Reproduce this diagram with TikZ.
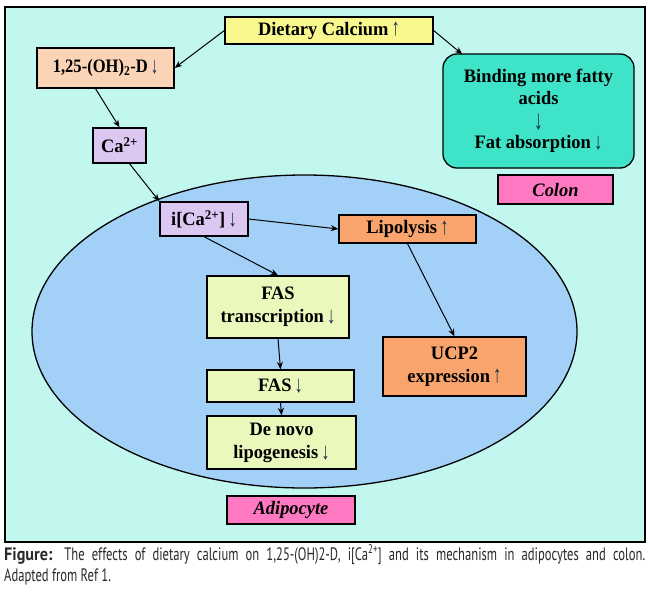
\documentclass[tikz,border=0pt]{standalone}
\usepackage{fontspec}
\usepackage{graphicx}
\setmainfont[FakeStretch=0.97]{Liberation Serif}
\newfontfamily\capfont[FakeStretch=0.7]{PT Sans}
\newfontfamily\capfontb[FakeStretch=0.9]{PT Sans}
\usetikzlibrary{arrows.meta,shapes.geometric,calc}
\definecolor{bgc}{HTML}{C2F7EF}
\definecolor{cellc}{HTML}{A2D0F7}
\definecolor{yelc}{HTML}{F8F88E}
\definecolor{peachc}{HTML}{FBD3B6}
\definecolor{turqc}{HTML}{3FE3C8}
\definecolor{lavc}{HTML}{DCC6F2}
\definecolor{orgc}{HTML}{F9A46C}
\definecolor{greenc}{HTML}{EBF8BB}
\definecolor{pinkc}{HTML}{FF78C2}
\definecolor{capc}{HTML}{2A2A2A}
\definecolor{arrc}{HTML}{12304A}
\newcommand\myup{\,\raisebox{-0.5pt}{\textcolor{arrc}{\scalebox{0.9}[1.25]{↑}}}}
\newcommand\mydn{\,\raisebox{-1pt}{\textcolor{arrc}{\scalebox{0.9}[1.25]{↓}}}}
\tikzset{
  bx/.style={draw=black, line width=1.3pt, align=center, inner sep=0pt,
    font=\fontsize{19}{23}\selectfont\bfseries},
  lbl/.style={bx, fill=pinkc, font=\fontsize{19}{23}\selectfont\bfseries\itshape},
  arr/.style={line width=1pt, -{Stealth[length=7.5pt,width=6pt]}},
  captxt/.style={anchor=base west, inner sep=0pt, text=capc, font=\capfont\fontsize{18}{21}\selectfont}
}
\begin{document}
\begin{tikzpicture}[x=1pt,y=-1pt]
\useasboundingbox (0,0) rectangle (650,597);
\fill[white] (0,0) rectangle (650,597);
\draw[line width=1.3pt, fill=bgc] (5,7) rectangle (645,542);
\node[ellipse, draw=black, line width=1.3pt, fill=cellc, minimum width=545pt, minimum height=313pt, inner sep=0pt] (cell) at (304.5,331.5) {};
\node[bx, fill=yelc, minimum width=208pt, minimum height=27pt] (diet) at (329,30.5) {Dietary Calcium\myup};
\node[bx, fill=peachc, minimum width=137pt, minimum height=40pt] (d125) at (105.5,68) {\scalebox{0.9}[1]{1,25-(OH)\textsubscript{2}-D\mydn}};
\node[bx, fill=turqc, rounded corners=14pt, minimum width=191pt, minimum height=114pt, font=\fontsize{19}{22}\selectfont\bfseries] (bind) at (538.5,111) {Binding more fatty\\acids\\\raisebox{-3pt}[12pt][0pt]{\textcolor{arrc}{\scalebox{1}[1.45]{↓}}}\\Fat absorption\mydn};
\node[lbl, minimum width=115pt, minimum height=29pt] (colon) at (555.5,189.5) {Colon};
\node[bx, fill=lavc, minimum width=53pt, minimum height=35pt] (ca) at (119.5,145.5) {Ca\textsuperscript{2+}};
\node[bx, fill=lavc, minimum width=88pt, minimum height=34pt] (ica) at (204,219) {i[Ca\textsuperscript{2+}]\mydn};
\node[bx, fill=orgc, minimum width=137pt, minimum height=28pt] (lipo) at (407.5,229) {Lipolysis\myup};
\node[bx, fill=greenc, minimum width=142pt, minimum height=62pt] (fastr) at (278,307) {FAS\\transcription\mydn};
\node[bx, fill=orgc, minimum width=143pt, minimum height=59pt] (ucp) at (454.5,366.5) {UCP2\\expression\myup};
\node[bx, fill=greenc, minimum width=147pt, minimum height=32pt] (fas) at (280.5,386) {FAS\mydn};
\node[bx, fill=greenc, minimum width=149pt, minimum height=53pt] (denovo) at (281.5,442.5) {De novo\\lipogenesis\mydn};
\node[lbl, minimum width=128pt, minimum height=28pt] (adipo) at (291,510) {Adipocyte};
\draw[arr] (diet.west) -- (d125.east);
\draw[arr] (diet.east) -- ($(bind.north west)+(20,1)$);
\draw[arr] ($(d125.south)+(-10,0)$) -- (ca.north);
\draw[arr] ($(ca.south)+(10,0)$) -- (ica.north west);
\draw[arr] (ica.east) -- (lipo.west);
\draw[arr] (ica.south) -- (fastr.north);
\draw[arr] (lipo.south) -- (ucp.north);
\draw[arr] (fastr.south) -- (fas.north);
\draw[arr] (fas.south) -- (denovo.north);
\node[captxt] (cap1) at (4,560) {\makebox[641pt][s]{{\capfontb\bfseries Figure:} The effects of dietary calcium on 1,25-(OH)2-D, i[Ca\textsuperscript{2+}] and its mechanism in adipocytes and colon.}};
\node[captxt] (cap2) at (4,581) {Adapted from Ref 1.};
\end{tikzpicture}
\end{document}
